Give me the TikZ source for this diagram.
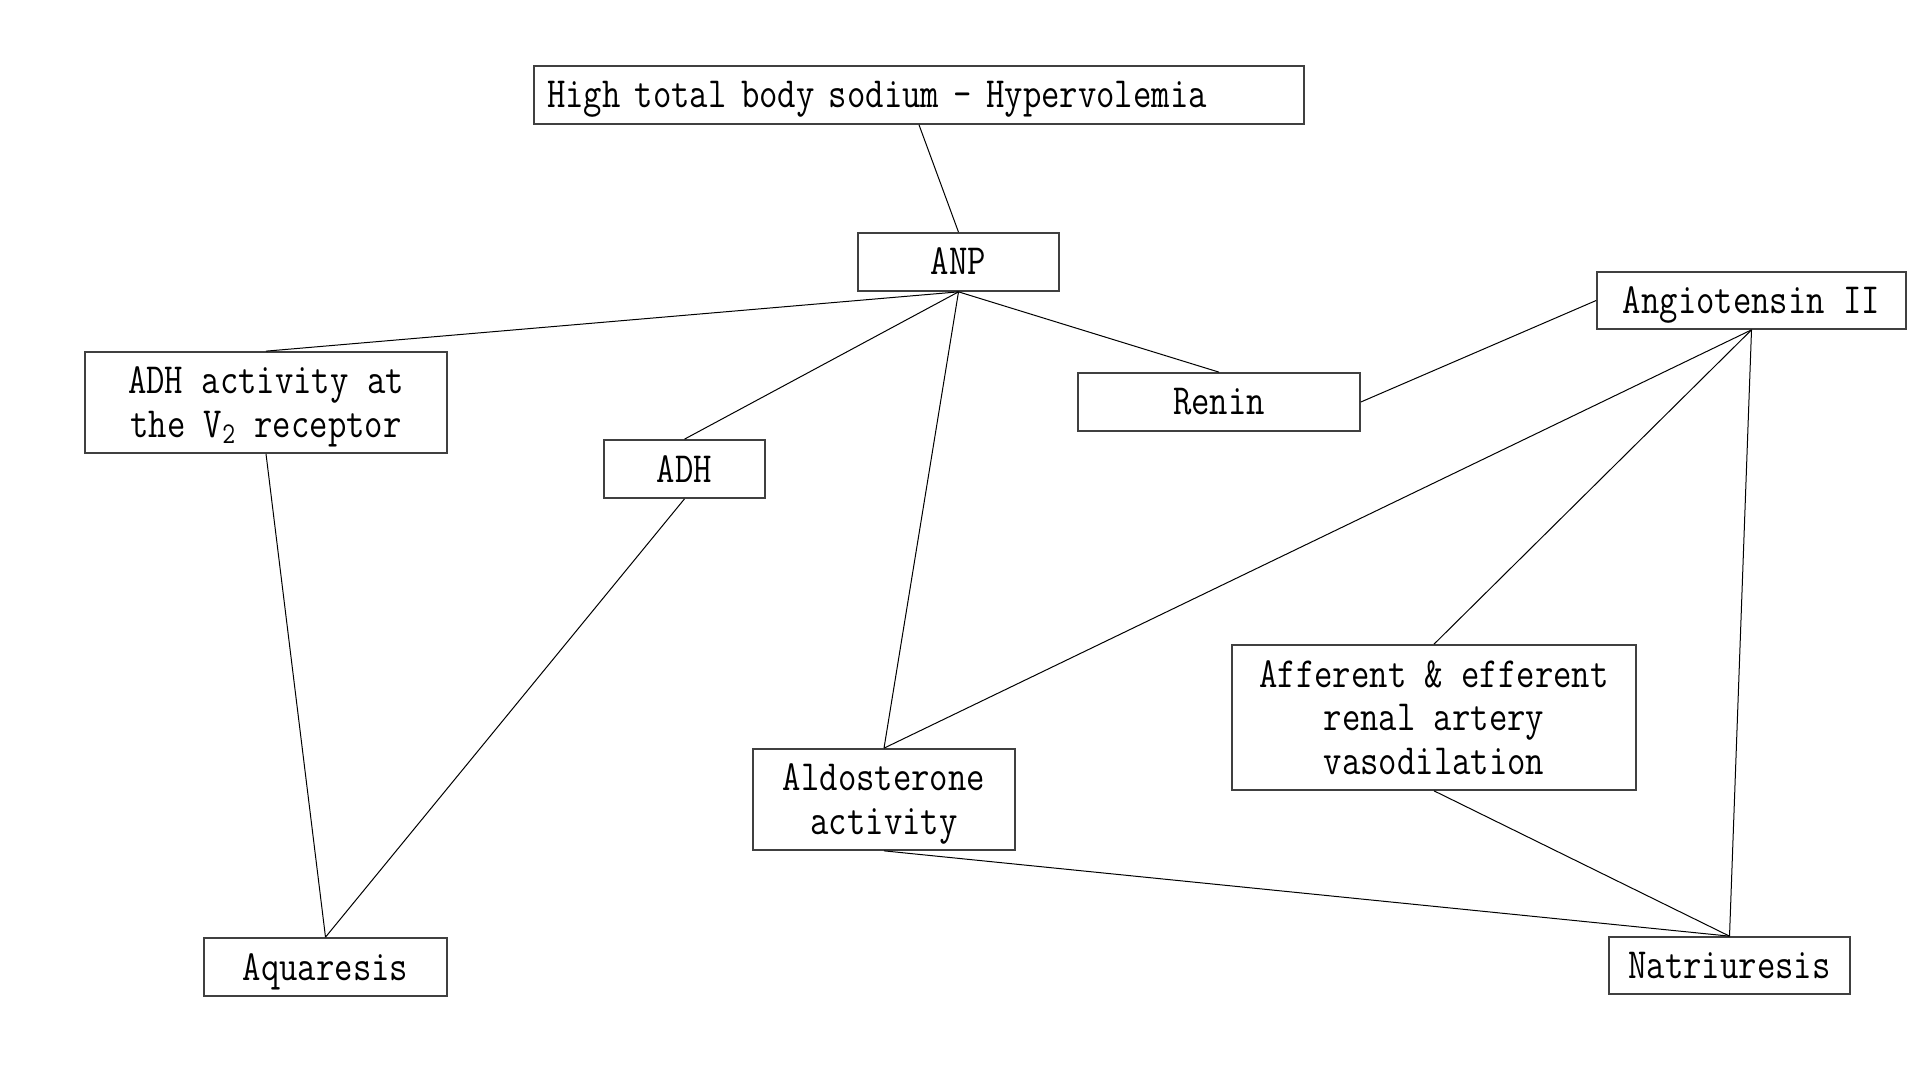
\documentclass[tikz,border=0pt]{standalone}
\usepackage{fontspec}
\newfontfamily\boxfont{Latin Modern Mono}[FakeStretch=0.83]
\begin{document}
\begin{tikzpicture}[x=1pt,y=-1pt,
  box/.style={draw=black!75,line width=0.85pt,rectangle,inner sep=0pt,align=center,
    font=\boxfont\fontsize{21.5}{21.75}\selectfont,text height=13pt,text depth=0pt},
  two/.style={text height=34.75pt},
  three/.style={text height=56.5pt},
  link/.style={draw=black,line width=0.5pt}]
\useasboundingbox (0,0) rectangle (960,540);
\node[box,minimum width=385pt,minimum height=29pt,text width=372pt,align=left] (top) at (459.5,47.5) {High total body sodium - Hypervolemia};
\node[box,minimum width=100.5pt,minimum height=29pt] (anp) at (479.25,131) {ANP};
\node[box,two,minimum width=181pt,minimum height=50.5pt] (adhact) at (133,201.25) {ADH activity at\\the V\textsubscript{2} receptor};
\node[box,minimum width=80.5pt,minimum height=29pt] (adh) at (342.25,234.5) {ADH};
\node[box,minimum width=141pt,minimum height=29pt] (renin) at (609.5,201) {Renin};
\node[box,minimum width=154.5pt,minimum height=28.5pt] (ang) at (875.75,150.25) {Angiotensin II};
\node[box,two,minimum width=131pt,minimum height=50.5pt] (aldo) at (442,399.75) {Aldosterone\\activity};
\node[box,three,minimum width=202pt,minimum height=72.5pt] (aff) at (717,358.75) {Afferent \& efferent\\renal artery\\vasodilation};
\node[box,minimum width=121.5pt,minimum height=29pt] (aqua) at (162.75,483.5) {Aquaresis};
\node[box,minimum width=120.5pt,minimum height=28.5pt] (natr) at (864.75,482.75) {Natriuresis};
\draw[link] (top.south) -- (anp.north);
\draw[link] (anp.south) -- (adhact.north);
\draw[link] (anp.south) -- (adh.north);
\draw[link] (anp.south) -- (aldo.north);
\draw[link] (anp.south) -- (renin.north);
\draw[link] (renin.east) -- (ang.west);
\draw[link] (ang.south) -- (aldo.north);
\draw[link] (ang.south) -- (aff.north);
\draw[link] (ang.south) -- (natr.north);
\draw[link] (adhact.south) -- (aqua.north);
\draw[link] (adh.south) -- (aqua.north);
\draw[link] (aldo.south) -- (natr.north);
\draw[link] (aff.south) -- (natr.north);
\end{tikzpicture}
\end{document}
